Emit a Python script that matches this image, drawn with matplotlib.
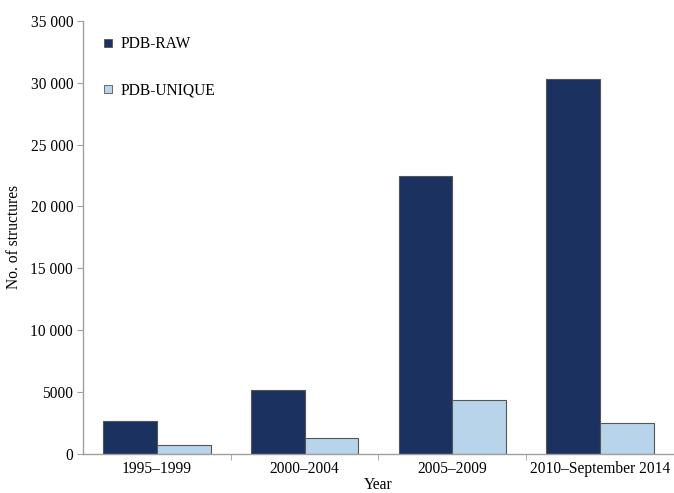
import numpy as np
from matplotlib import pyplot as plt
from matplotlib.lines import Line2D

categories = ['1995\u20131999', '2000\u20132004', '2005\u20132009', '2010\u2013September 2014']
pdb_raw = [2630, 5180, 22460, 30300]
pdb_unique = [720, 1240, 4330, 2500]
ytick_vals = [0, 5000, 10000, 15000, 20000, 25000, 30000, 35000]
ytick_labels = ['0', '5000', '10 000', '15 000', '20 000', '25 000', '30 000', '35 000']

dark = '#1b3160'
light = '#b8d4ea'
edge = '#555555'
axis_gray = '#a0a0a0'

plt.rcParams['font.family'] = ['Liberation Serif', 'DejaVu Serif']

fig = plt.figure(figsize=(6.74, 4.93), dpi=100)
ax = fig.add_axes([0.123, 0.08, 0.877, 0.877])

x = np.arange(len(categories))
w = 0.364
ax.bar(x - w/2, pdb_raw, w, color=dark, edgecolor=edge, linewidth=0.8)
ax.bar(x + w/2, pdb_unique, w, color=light, edgecolor=edge, linewidth=0.8)

ax.set_xlim(-0.5, 3.5)
ax.set_ylim(0, 35000)
ax.set_yticks(ytick_vals)
ax.set_yticklabels(ytick_labels, fontsize=11.2)
ax.set_xticks(x)
ax.set_xticklabels(categories, fontsize=11.2)
ax.set_xticks([0.5, 1.5, 2.5], minor=True)
ax.tick_params(axis='x', which='major', length=0, pad=5)
ax.tick_params(axis='x', which='minor', length=4, color=axis_gray, direction='out')
ax.tick_params(axis='y', length=4, color=axis_gray, direction='out', pad=3)

for s in ['top', 'right']:
    ax.spines[s].set_visible(False)
for s in ['left', 'bottom']:
    ax.spines[s].set_color(axis_gray)
    ax.spines[s].set_linewidth(1.0)

ax.set_ylabel('No. of structures', fontsize=11.2, labelpad=6)
ax.set_xlabel('Year', fontsize=11.2, labelpad=0)

handles = [
    Line2D([], [], marker='s', linestyle='none', markersize=5.5,
           markerfacecolor=dark, markeredgecolor=edge, markeredgewidth=0.6),
    Line2D([], [], marker='s', linestyle='none', markersize=5.5,
           markerfacecolor=light, markeredgecolor=edge, markeredgewidth=0.6),
]
ax.legend(handles, ['PDB-RAW', 'PDB-UNIQUE'], loc='upper left',
          bbox_to_anchor=(0.008, 0.997), frameon=False, fontsize=11.2,
          labelspacing=1.9, handlelength=0.8, handletextpad=0.4)

fig.savefig('out.png', dpi=100)
